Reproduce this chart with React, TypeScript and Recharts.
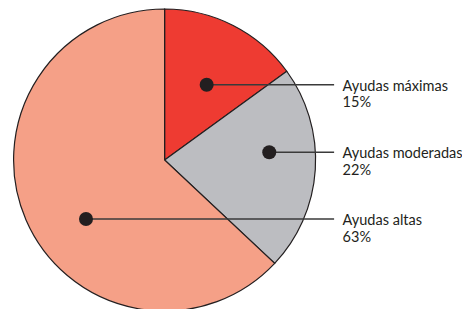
import { PieChart, Pie, Cell } from "recharts";

const categories = ["Ayudas máximas", "Ayudas moderadas", "Ayudas altas"];
const shares = [15, 22, 63];
const colors = ["#EE3B32", "#BCBDC1", "#F5A087"];

// where each marker dot sits inside its slice (angle shift from mid-angle, fraction of radius)
const dotAngleShift = [-2.2, 7.8, 13.5];
const dotRadiusFrac = [0.571, 0.695, 0.651];

const data = categories.map((name, i) => ({ name, value: shares[i] }));

const RAD = Math.PI / 180;
const FONT = "Lato, 'Liberation Sans', sans-serif";

function renderLabel(props: any) {
  const { cx, cy, midAngle, outerRadius, index } = props;
  const a = (midAngle + dotAngleShift[index]) * RAD;
  const r = outerRadius * dotRadiusFrac[index];
  const x = cx + r * Math.cos(a);
  const y = cy - r * Math.sin(a);
  const lineEnd = cx + outerRadius + 18.5;
  const textX = cx + outerRadius + 27;
  return (
    <g key={`lbl-${index}`}>
      <line x1={x} y1={y} x2={lineEnd} y2={y} stroke="#3a3a3a" strokeWidth={1.4} />
      <circle cx={x} cy={y} r={7} fill="#231F20" />
      <text x={textX} y={y + 6} fontFamily={FONT} fontSize={14.5} fill="#231F20">
        {categories[index]}
      </text>
      <text x={textX} y={y + 22.5} fontFamily={FONT} fontSize={14.5} fill="#231F20">
        {`${shares[index]}%`}
      </text>
    </g>
  );
}

export default function App() {
  return (
    <div style={{ position: "absolute", left: 0, top: 0, width: 462, height: 309, background: "#fff", overflow: "hidden" }}>
      <PieChart width={462} height={309} margin={{ top: 0, right: 0, bottom: 0, left: 0 }}>
        <Pie
          data={data}
          dataKey="value"
          nameKey="name"
          cx={164.6}
          cy={160}
          outerRadius={151}
          startAngle={90}
          endAngle={-270}
          stroke="#231F20"
          strokeWidth={1.2}
          label={renderLabel}
          labelLine={false}
          isAnimationActive={false}
        >
          {data.map((d, i) => (
            <Cell key={d.name} fill={colors[i]} />
          ))}
        </Pie>
      </PieChart>
    </div>
  );
}
